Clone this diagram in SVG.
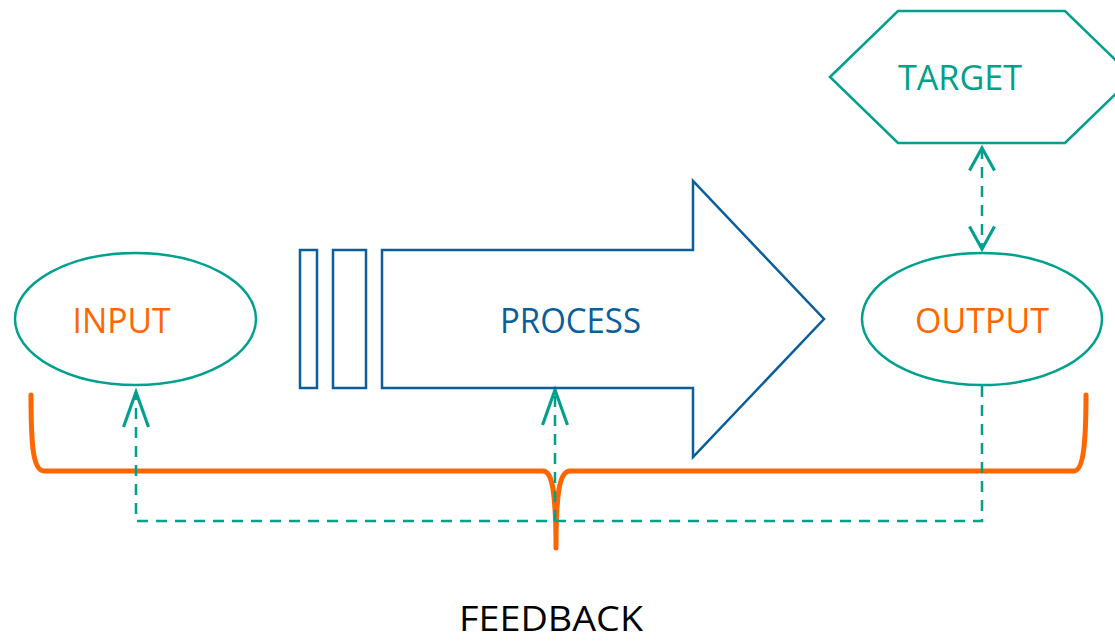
<svg xmlns="http://www.w3.org/2000/svg" width="1115" height="641" viewBox="0 0 1115 641">
<style>
  .teal { fill: none; stroke: #00A08C; stroke-width: 2.5; }
  .blue { fill: none; stroke: #0A5E9C; stroke-width: 2.5; }
  .dash { fill: none; stroke: #00A08C; stroke-width: 2.5; stroke-dasharray: 11 8; }
  .lbl { font-family: "Open Sans", "Noto Sans", sans-serif; font-size: 34px; text-anchor: middle; }
  .orange { fill: #FF6600; }
  .tealtxt { fill: #00A08C; }
  .bluetxt { fill: #0A5E9C; }
  .brace { fill: none; stroke: #FF6600; stroke-width: 5; stroke-linecap: round; stroke-linejoin: round; }
</style>
<defs>
  <marker id="headLong" markerUnits="userSpaceOnUse" markerWidth="40" markerHeight="30" refX="0" refY="0" viewBox="-30 -12 32 24" orient="auto-start-reverse" overflow="visible">
    <path d="M-28,-10 L0,0 L-28,10" fill="none" stroke="#00A08C" stroke-width="2.5"/>
  </marker>
  <marker id="headShort" markerUnits="userSpaceOnUse" markerWidth="30" markerHeight="30" refX="0" refY="0" viewBox="-20 -12 22 24" orient="auto-start-reverse" overflow="visible">
    <path d="M-18,-10 L0,0 L-18,10" fill="none" stroke="#00A08C" stroke-width="2.5"/>
  </marker>
</defs>

<g id="brace">
  <path class="brace" d="M31,395 C31,445 33,471 44,471 L543,471 C552,471 556,490 556,548 C556,490 560,471 570,471 L1074,471 C1083,471 1086,445 1086,395"/>
</g>

<g id="connectors">
  <path class="dash" d="M982,386 V521 H136 V392" marker-end="url(#headLong)"/>
  <path class="dash" d="M555,521 V390" marker-end="url(#headLong)"/>
  <path class="dash" d="M982,148 V249" marker-start="url(#headShort)" marker-end="url(#headShort)"/>
</g>

<g id="input">
  <ellipse class="teal" cx="135.5" cy="319" rx="120.5" ry="66"/>
  <text class="lbl orange" x="121.5" y="333" textLength="98" lengthAdjust="spacingAndGlyphs">INPUT</text>
</g>

<g id="process">
  <rect class="blue" x="300" y="250" width="17" height="138"/>
  <rect class="blue" x="333" y="250" width="33" height="138"/>
  <path class="blue" d="M382,250 H693 V181 L824,319 L693,457 V388 H382 Z"/>
  <text class="lbl bluetxt" x="570.5" y="333" textLength="141" lengthAdjust="spacingAndGlyphs">PROCESS</text>
</g>

<g id="output">
  <ellipse class="teal" cx="982" cy="319" rx="120" ry="66"/>
  <text class="lbl orange" x="982" y="333" textLength="134" lengthAdjust="spacingAndGlyphs">OUTPUT</text>
</g>

<g id="target">
  <polygon class="teal" points="830,77 898,11 1065,11 1133,77 1065,143 898,143"/>
  <text class="lbl tealtxt" x="960" y="90" textLength="124" lengthAdjust="spacingAndGlyphs">TARGET</text>
</g>

<g id="feedback">
  <text class="lbl" x="551" y="631" fill="#000000" textLength="184" lengthAdjust="spacingAndGlyphs">FEEDBACK</text>
</g>
</svg>
